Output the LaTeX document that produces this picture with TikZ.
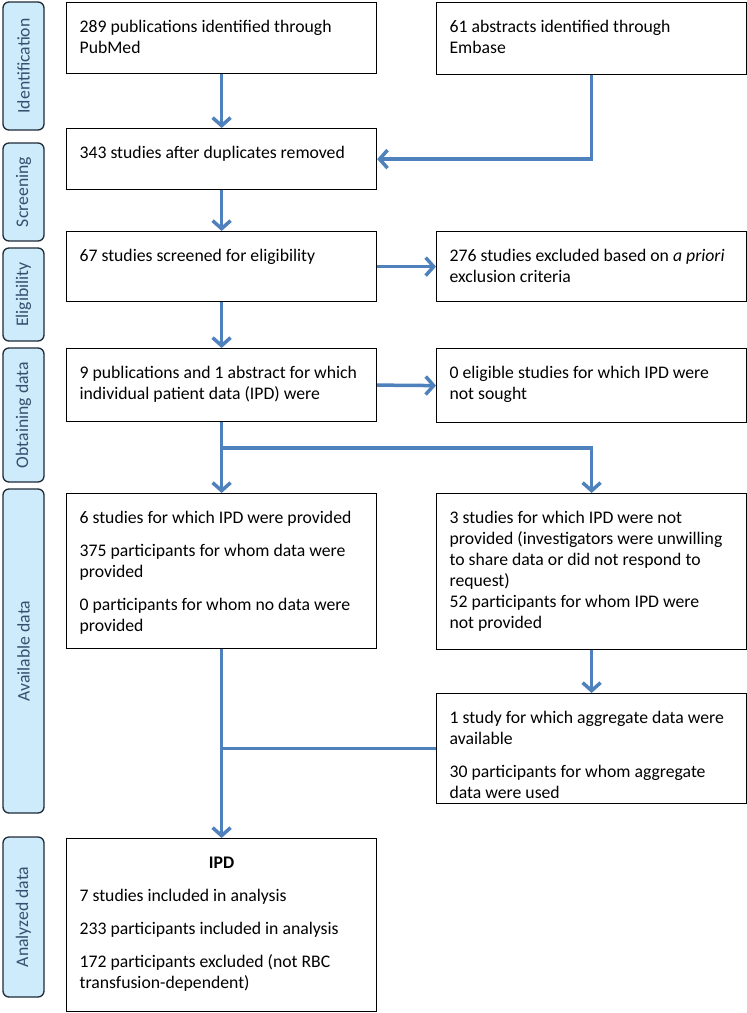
\documentclass[tikz,border=0pt]{standalone}
\usepackage{fontspec}
\setmainfont{Carlito}
\usetikzlibrary{arrows.meta}
\definecolor{arrowblue}{HTML}{4F81BD}
\definecolor{sidefill}{HTML}{CDEBFB}
\definecolor{sideline}{HTML}{1F2A36}
\definecolor{sidetext}{HTML}{34506E}
\newcommand{\tbox}[2]{\parbox[c][#1][t]{284pt}{\raggedright\rule{0pt}{30pt}#2}}

\begin{document}
\begin{tikzpicture}
  [x=1pt,y=-1pt,font=\fontsize{17.7}{21}\selectfont,
   box/.style={draw=black,line width=1.2pt,anchor=north west,inner xsep=13pt,inner ysep=0pt,minimum width=310pt},
   side/.style={draw=sideline,fill=sidefill,line width=1.3pt,rounded corners=6pt,rotate=90,
     minimum height=41pt,inner sep=0pt,text=sidetext},
   flow/.style={draw=arrowblue,line width=3.5pt,-{Straight Barb[length=8pt,width=18pt,line width=3.5pt]}},
   link/.style={draw=arrowblue,line width=3.5pt}]
  \useasboundingbox (0,0) rectangle (747,1013);

  % phase labels
  \node (s1) at (23.5,66) [side,minimum width=128pt] {Identification};
  \node (s2) at (23.5,192) [side,minimum width=98pt] {Screening};
  \node (s3) at (23.5,294.5) [side,minimum width=93pt] {Eligibility};
  \node (s4) at (23.5,415) [side,minimum width=134pt] {Obtaining data};
  \node (s5) at (23.5,651) [side,minimum width=324pt] {Available data};
  \node (s6) at (23.5,917) [side,minimum width=160pt] {Analyzed data};

  % boxes
  \node (pubmed) at (66,2) [box] {\tbox{71pt}{289 publications identified through\\PubMed}};
  \node (embase) at (436,2) [box] {\tbox{72pt}{61 abstracts identified through\\Embase}};
  \node (dupl) at (66,128) [box] {\tbox{61pt}{343 studies after duplicates removed}};
  \node (screen) at (66,231) [box] {\tbox{70pt}{67 studies screened for eligibility}};
  \node (excl) at (436,231) [box] {\tbox{70pt}{276 studies excluded based on \emph{a priori}\\exclusion criteria}};
  \node (sought) at (66,348) [box] {\tbox{73pt}{9 publications and 1 abstract for which\\individual patient data (IPD) were}};
  \node (notsought) at (436,348) [box] {\tbox{74pt}{0 eligible studies for which IPD were\\not sought}};
  \node (prov) at (66,493) [box] {\tbox{155pt}{6 studies for which IPD were provided\\[12pt]
    375 participants for whom data were\\provided\\[12pt]
    0 participants for whom no data were\\provided}};
  \node (notprov) at (436,493) [box] {\tbox{156pt}{3 studies for which IPD were not\\
    provided (investigators were unwilling\\to share data or did not respond to\\request)\\
    52 participants for whom IPD were\\not provided}};
  \node (aggr) at (436,693) [box] {\tbox{110pt}{1 study for which aggregate data were\\available\\[12pt]
    30 participants for whom aggregate\\data were used}};
  \node (ipd) at (66,838) [box] {\tbox{173pt}{\makebox[284pt]{\textbf{IPD}}\\[12pt]
    7 studies included in analysis\\[12pt]
    233 participants included in analysis\\[12pt]
    172 participants excluded (not RBC\\transfusion-dependent)}};

  \coordinate (split) at (221,448);

  \foreach \from/\to in {pubmed.south/dupl.north, dupl.south/screen.north, screen.east/excl.west,
      screen.south/sought.north, sought.east/notsought.west, notprov.south/aggr.north,
      prov.south/ipd.north}
    \draw[flow] (\from) -- (\to);

  \draw[flow] (embase.south) |- (dupl.east);
  \draw[flow] (sought.south) -- (prov.north);
  \draw[flow] (split) -| (notprov.north);
  \draw[link] (aggr.west) -- (aggr.west -| prov.south);

\end{tikzpicture}
\end{document}
